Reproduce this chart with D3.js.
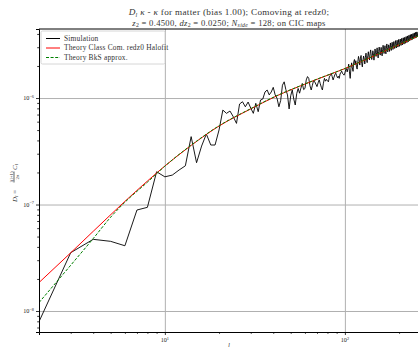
<!DOCTYPE html>
<html>
<head>
<meta charset="utf-8">
<script src="https://cdn.jsdelivr.net/npm/d3@7"></script>
<style>
  body { margin: 0; background: #fff; }
  svg { display: block; }
  text { font-family: "Liberation Serif", "DejaVu Serif", serif; fill: #000; }
</style>
</head>
<body>
<div id="chart"></div>
<script>
// D_l values are stored in units of 1e-7
const unit = 1e-7;

// Simulation, one value per multipole starting at l = 2
const simStartL = 2;
const simDl = [
  0.0794, 0.353, 0.471, 0.451, 0.410, 0.888, 0.941, 2.03,                 // l = 2..9
  1.82, 1.89, 2.11, 2.31, 4.34, 2.47, 3.54, 4.59, 3.62, 3.62,               // 10..19
  5.01, 7.71, 7.18, 7.55, 6.67, 5.78, 8.79, 9.23, 8.28, 9.17,               // 20..29
  8.05, 7.18, 8.92, 7.44, 9.58, 9.79, 11.4, 11.9, 10.7, 11.4,               // 30..39
  12.6, 10.7, 9.93, 8.28, 9.5, 13.2, 14.2, 12.0, 10.7, 7.9,                 // 40..49
  10.5, 11.9, 9.8, 8.6, 11.0, 12.3, 11.1, 12.4, 13.7, 12.0,                 // 50..59
  12.3, 14.8, 15.9, 15.3, 13.0, 11.9, 13.2, 14.6, 14.2, 13.5,               // 60..69
  12.8, 13.9, 14.8, 13.6, 12.6, 11.9, 13.8, 15.3, 14.4, 15.0,               // 70..79
  14.5, 14.2, 15.8, 16.3, 17.1, 15.9, 14.8, 15.7, 16.6, 17.1,               // 80..89
  16.2, 15.5, 16.0, 15.3, 16.8, 17.4, 17.9, 17.0, 16.8, 16.4,               // 90..99
  17.2, 18.4, 18.9, 17.6, 19.0, 20.8, 17.6, 15.3, 18.9, 21.4,               // 100..109
  19.2, 17.8, 21.9, 23.0, 20.6, 22.4, 19.5, 18.7, 21.8, 24.6,               // 110..119
  22.9, 20.4, 23.7, 25.1, 21.2, 19.6, 22.5, 24.8, 23.3, 20.9,               // 120..129
  24.1, 26.4, 22.6, 21.5, 25.0, 27.2, 24.4, 22.8, 26.1, 28.3,               // 130..139
  25.3, 23.0, 24.9, 27.8, 26.0, 22.7, 25.4, 28.9, 27.1, 24.6,               // 140..149
  26.8, 29.6, 25.9, 23.8, 27.4, 30.1, 28.2, 25.3, 27.0, 29.9,               // 150..159
  26.5, 24.9, 28.4, 31.3, 29.0, 26.2, 28.7, 31.0, 27.5, 26.0,               // 160..169
  29.4, 32.2, 29.8, 27.1, 28.9, 31.6, 30.3, 27.4, 30.0, 32.9,               // 170..179
  29.6, 28.0, 31.2, 33.4, 30.8, 28.6, 31.5, 33.9, 31.1, 29.2,               // 180..189
  32.0, 34.6, 31.7, 29.5, 32.4, 34.9, 32.2, 30.1, 33.0, 35.5,               // 190..199
  32.6, 30.6, 33.4, 35.8, 33.1, 31.2, 34.0, 36.4, 33.5, 31.6,               // 200..209
  34.3, 36.8, 34.0, 32.1, 35.0, 37.2, 34.5, 32.7, 35.4, 37.8,               // 210..219
  35.1, 33.2, 36.0, 38.3, 35.6, 33.8, 36.5, 38.9, 36.0, 34.4,               // 220..229
  37.1, 39.4, 36.6, 35.0, 37.7, 39.8, 37.1, 35.5, 38.2, 40.3,               // 230..239
  37.6, 36.0, 38.6, 40.9, 38.1, 36.5, 39.2, 41.4, 38.7, 37.0,               // 240..249
  39.6, 41.8, 39.0, 37.6, 40.2, 41.5                                        // 250..255
];

const halofitL  = [2, 3, 4, 6, 8, 10, 14, 20, 30, 43, 56, 70, 100, 150, 200, 258];
const halofitDl = [0.185, 0.352, 0.56, 1.07, 1.66, 2.30, 3.59, 5.46, 7.9, 10.7, 12.9, 15.0, 18.9, 25.5, 31.7, 38.5];
const bksL  = [2, 3, 4, 5, 6, 8, 10, 14, 20, 30, 43, 56, 70, 100, 150, 200, 258];
const bksDl = [0.120, 0.269, 0.479, 0.76, 1.05, 1.62, 2.29, 3.61, 5.49, 7.95, 10.75, 12.95, 15.05, 18.95, 25.6, 31.8, 38.6];

const legendLabels = ['Simulation', 'Theory Class Com. redz0 Halofit', 'Theory BkS approx.'];
const seriesColors = ['#000000', '#ff0000', '#008000'];

const xMajor = [10, 100];
const xMinor = [3, 4, 5, 6, 7, 8, 9, 20, 30, 40, 50, 60, 70, 80, 90, 200];
const yMajor = [1e-8, 1e-7, 1e-6];
const yMinor = [7e-9, 8e-9, 9e-9, 2e-8, 3e-8, 4e-8, 5e-8, 6e-8, 7e-8, 8e-8, 9e-8,
                2e-7, 3e-7, 4e-7, 5e-7, 6e-7, 7e-7, 8e-7, 9e-7, 2e-6, 3e-6, 4e-6];
const xExp = ['1', '2'];
const yExp = ['\u22128', '\u22127', '\u22126'];

// Set up dimensions
const w = 418;
const h = 348;
const margin = { top: 29, right: -1, bottom: 16, left: 39 };

const x = d3.scaleLog()
  .domain([2, 258])
  .range([margin.left, w - margin.right]);

const y = d3.scaleLog()
  .domain([6.35e-9, 4.45e-6])
  .range([h - margin.bottom, margin.top]);

const svg = d3.select('#chart')
  .append('svg')
  .attr('width', w)
  .attr('height', h);

// Grid
svg.append('g')
  .attr('transform', `translate(0, ${h - margin.bottom})`)
  .call(d3.axisBottom(x).tickValues(xMajor).tickSize(-(h - margin.top - margin.bottom)).tickFormat(''))
  .call(g => g.select('.domain').remove())
  .selectAll('line').attr('stroke', '#b0b0b0').attr('stroke-width', 1);

svg.append('g')
  .attr('transform', `translate(${margin.left}, 0)`)
  .call(d3.axisLeft(y).tickValues(yMajor).tickSize(-(w - margin.left - margin.right)).tickFormat(''))
  .call(g => g.select('.domain').remove())
  .selectAll('line').attr('stroke', '#b0b0b0').attr('stroke-width', 1);

// Lines
const plot = svg.append('g');
plot.append('clipPath').attr('id', 'clip')
  .append('rect')
  .attr('x', margin.left).attr('y', margin.top)
  .attr('width', w - margin.left - margin.right)
  .attr('height', h - margin.top - margin.bottom);

const lines = plot.append('g').attr('clip-path', 'url(#clip)');

const simLine = d3.line()
  .x((d, i) => x(simStartL + i))
  .y(d => y(d * unit));

lines.append('path')
  .datum(simDl)
  .attr('fill', 'none')
  .attr('stroke', seriesColors[0])
  .attr('stroke-width', 0.9)
  .attr('d', simLine);

const theoryLine = d3.line()
  .curve(d3.curveMonotoneX)
  .x(d => x(d[0]))
  .y(d => y(d[1] * unit));

lines.append('path')
  .datum(d3.zip(halofitL, halofitDl))
  .attr('fill', 'none')
  .attr('stroke', seriesColors[1])
  .attr('stroke-width', 1)
  .attr('d', theoryLine);

lines.append('path')
  .datum(d3.zip(bksL, bksDl))
  .attr('fill', 'none')
  .attr('stroke', seriesColors[2])
  .attr('stroke-width', 1)
  .attr('stroke-dasharray', '3,1.6')
  .attr('d', theoryLine);

// Axes
const xAxisG = svg.append('g')
  .attr('transform', `translate(0, ${h - margin.bottom})`);
xAxisG.append('g')
  .call(d3.axisBottom(x).tickValues(xMajor).tickSize(3).tickFormat(''));
xAxisG.append('g')
  .call(d3.axisBottom(x).tickValues(xMinor).tickSize(1.8).tickFormat(''))
  .call(g => g.select('.domain').remove());

const yAxisG = svg.append('g')
  .attr('transform', `translate(${margin.left}, 0)`);
yAxisG.append('g')
  .call(d3.axisLeft(y).tickValues(yMajor).tickSize(3).tickFormat(''));
yAxisG.append('g')
  .call(d3.axisLeft(y).tickValues(yMinor).tickSize(1.8).tickFormat(''))
  .call(g => g.select('.domain').remove());

svg.selectAll('.domain').attr('stroke', '#000').attr('stroke-width', 1);
xAxisG.selectAll('.tick line').attr('stroke', '#000').attr('stroke-width', 0.8);
yAxisG.selectAll('.tick line').attr('stroke', '#000').attr('stroke-width', 0.8);

// top spine
svg.append('line')
  .attr('x1', margin.left).attr('x2', w)
  .attr('y1', margin.top).attr('y2', margin.top)
  .attr('stroke', '#000').attr('stroke-width', 1);

// tick labels with superscripts
xMajor.forEach((v, i) => {
  const t = svg.append('text')
    .attr('x', x(v))
    .attr('y', h - margin.bottom + 10)
    .attr('text-anchor', 'middle')
    .attr('font-size', 6.2)
    .style('fill', '#222');
  t.append('tspan').text('10');
  t.append('tspan').attr('font-size', 4.3).attr('dy', -2.4).text(xExp[i]);
});

yMajor.forEach((v, i) => {
  const t = svg.append('text')
    .attr('x', margin.left - 5)
    .attr('y', y(v) + 2)
    .attr('text-anchor', 'end')
    .attr('font-size', 6.2)
    .style('fill', '#222');
  t.append('tspan').text('10');
  t.append('tspan').attr('font-size', 4.3).attr('dy', -2.4).text(yExp[i]);
});

// Title
const cx = (margin.left + w - margin.right) / 2;
const t1 = svg.append('text')
  .attr('x', cx).attr('y', 15)
  .attr('text-anchor', 'middle')
  .attr('font-size', 9.2)
  .attr('letter-spacing', 0.3)
  .style('fill', '#333');
t1.append('tspan').attr('font-style', 'italic').text('D');
t1.append('tspan').attr('font-style', 'italic').attr('font-size', 6.2).attr('dy', 1.8).text('l');
t1.append('tspan').attr('dy', -1.8).text(' ');
t1.append('tspan').attr('font-style', 'italic').text('\u03ba');
t1.append('tspan').text(' - ');
t1.append('tspan').attr('font-style', 'italic').text('\u03ba');
t1.append('tspan').text(' for matter (bias 1.00); Comoving at redz0;');

const t2 = svg.append('text')
  .attr('x', cx).attr('y', 25.5)
  .attr('text-anchor', 'middle')
  .attr('font-size', 8.6)
  .attr('letter-spacing', 0.3)
  .style('fill', '#333');
t2.append('tspan').attr('font-style', 'italic').text('z');
t2.append('tspan').attr('font-size', 5.8).attr('dy', 1.6).text('2');
t2.append('tspan').attr('dy', -1.6).text(' = 0.4500, ');
t2.append('tspan').attr('font-style', 'italic').text('dz');
t2.append('tspan').attr('font-size', 5.8).attr('dy', 1.6).text('2');
t2.append('tspan').attr('dy', -1.6).text(' = 0.0250; ');
t2.append('tspan').attr('font-style', 'italic').text('N');
t2.append('tspan').attr('font-style', 'italic').attr('font-size', 5.8).attr('dy', 1.6).text('side');
t2.append('tspan').attr('dy', -1.6).text(' = 128; on CIC maps');

// x label
svg.append('text')
  .attr('x', cx).attr('y', h - 1.5)
  .attr('text-anchor', 'middle')
  .attr('font-size', 5.5)
  .attr('font-style', 'italic')
  .text('l');

// y label: D_l = l(l+1)/(2 pi) C_l
const yl = svg.append('g')
  .attr('transform', 'translate(14, 180) rotate(-90)');
const ylt = yl.append('text').attr('x', -22).attr('y', 2.5).attr('font-size', 7).style('fill', '#333');
ylt.append('tspan').attr('font-style', 'italic').text('D');
ylt.append('tspan').attr('font-style', 'italic').attr('font-size', 4.8).attr('dy', 1.4).text('l');
ylt.append('tspan').attr('dy', -1.4).text(' = ');
yl.append('text').attr('x', 3).attr('y', -1.4).attr('text-anchor', 'middle')
  .attr('font-size', 4.8).style('fill', '#333').text('l(l+1)');
yl.append('line').attr('x1', -2.5).attr('x2', 8.5).attr('y1', 0).attr('y2', 0)
  .attr('stroke', '#000').attr('stroke-width', 0.6);
yl.append('text').attr('x', 3).attr('y', 5).attr('text-anchor', 'middle')
  .attr('font-size', 4.8).style('fill', '#333').text('2\u03c0');
const ylc = yl.append('text').attr('x', 10).attr('y', 2.5).attr('font-size', 7).style('fill', '#333');
ylc.append('tspan').attr('font-style', 'italic').text('C');
ylc.append('tspan').attr('font-style', 'italic').attr('font-size', 4.8).attr('dy', 1.4).text('l');

// Legend
const legend = svg.append('g');
legend.append('rect')
  .attr('x', 41).attr('y', 31)
  .attr('width', 124).attr('height', 33)
  .attr('rx', 1.5)
  .attr('fill', '#fff').attr('fill-opacity', 0.8)
  .attr('stroke', '#cccccc').attr('stroke-width', 0.8);

legendLabels.forEach((label, i) => {
  const ly = 38.5 + i * 9.5;
  legend.append('line')
    .attr('x1', 46).attr('x2', 60)
    .attr('y1', ly).attr('y2', ly)
    .attr('stroke', seriesColors[i])
    .attr('stroke-width', 1)
    .attr('stroke-dasharray', i === 2 ? '3,1.6' : null);
  legend.append('text')
    .attr('x', 64).attr('y', ly + 2.3)
    .attr('font-size', 7.4)
    .attr('letter-spacing', 0.2)
    .style('fill', '#333')
    .text(label);
});
</script>
</body>
</html>
